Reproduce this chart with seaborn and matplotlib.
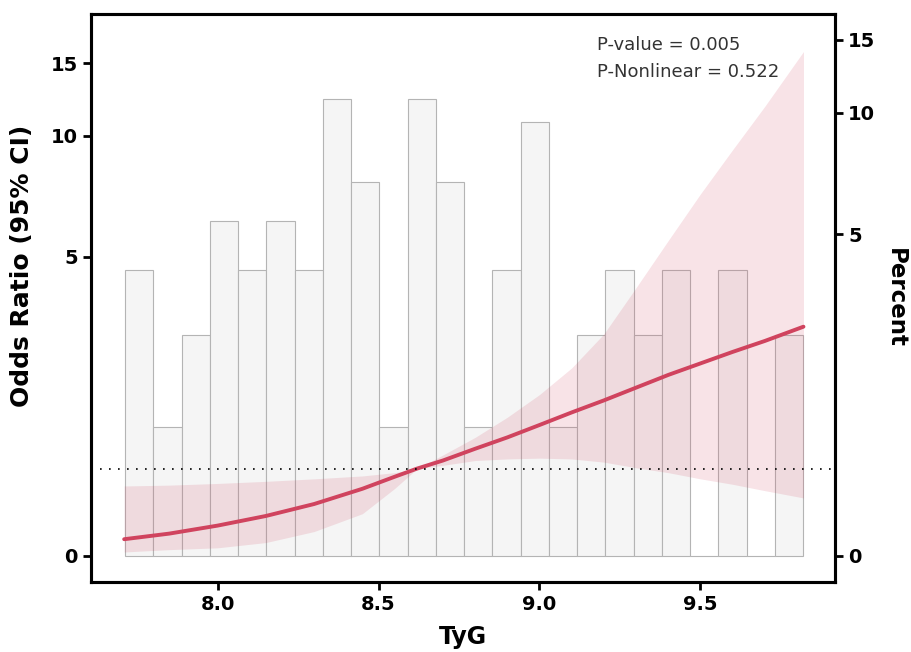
import numpy as np
import pandas as pd
import seaborn as sns
import matplotlib.pyplot as plt
from matplotlib.ticker import NullLocator

sns.set_theme(style="white")
plt.rcParams["font.family"] = ["DejaVu Sans"]

# histogram of TyG: 24 bins, counts per bin (shown as percent on right axis)
bin_start = 7.713
bin_width = 0.08775
counts = [3, 1, 2, 4, 3, 4, 3, 8, 5, 1, 8, 5, 1, 3, 7, 1, 2, 3, 2, 3, 0, 3, 0, 2]

# RCS curve + 95% CI
tyg = [7.71, 7.85, 8.0, 8.15, 8.3, 8.45, 8.55, 8.62, 8.7, 8.8, 8.9, 9.0,
       9.1, 9.2, 9.3, 9.4, 9.5, 9.6, 9.7, 9.82]
or_fit = [0.185, 0.247, 0.336, 0.444, 0.58, 0.757, 0.9, 1.0, 1.10, 1.25, 1.40, 1.57,
          1.75, 1.93, 2.13, 2.34, 2.54, 2.75, 2.96, 3.25]
or_low = [0.044, 0.07, 0.09, 0.148, 0.27, 0.47, 0.76, 1.0, 1.04, 1.10, 1.12, 1.13,
          1.12, 1.08, 1.01, 0.95, 0.875, 0.81, 0.735, 0.65]
or_high = [0.79, 0.80, 0.82, 0.845, 0.875, 0.91, 0.95, 1.0, 1.17, 1.40, 1.68, 2.02,
           2.46, 3.1, 4.15, 5.5, 7.2, 9.25, 11.8, 16.0]

p_text = ["P-value = 0.005", "P-Nonlinear = 0.522"]

n_bins = len(counts)
bin_end = bin_start + bin_width * n_bins
hist_df = pd.DataFrame({
    "tyg": bin_start + bin_width * (np.arange(n_bins) + 0.5),
    "pct": np.array(counts) / sum(counts) * 100,
})

red = "#d0435e"

fig = plt.figure(figsize=(9.11, 6.52), dpi=100)
ax = fig.add_axes([0.0999, 0.1074, 0.8167, 0.8711])
ax2 = ax.twinx()

# bars on the right axis (percent)
sns.histplot(data=hist_df, x="tyg", weights="pct", bins=n_bins,
             binrange=(bin_start, bin_end), ax=ax2,
             color="#f5f5f5", edgecolor="#b4b4b4", linewidth=0.8, alpha=1)
ax2.set_yscale("asinh", linear_width=1.75)
ax2.set_ylim(-0.252, 17.3)
ax2.set_yticks([0, 5, 10, 15], labels=["0", "5", "10", "15"])
ax2.yaxis.set_minor_locator(NullLocator())
ax2.set_ylabel("Percent", rotation=-90, fontsize=16.5, fontweight="bold",
               va="bottom", color="black")
ax2.yaxis.set_label_coords(1.066, 0.5)

# curve on the left axis (odds ratio)
ax.fill_between(tyg, or_low, or_high, color=red, alpha=0.15, lw=0)
sns.lineplot(x=tyg, y=or_fit, ax=ax, color=red, lw=2.8)
ax.axhline(1, color="black", lw=1.2, ls=(0, (1, 4.4)))
ax.set_yscale("asinh", linear_width=2)
ax.set_ylim(-0.287, 19.7)
ax.set_xlim(7.607, 9.918)
ax.set_yticks([0, 5, 10, 15], labels=["0", "5", "10", "15"])
ax.yaxis.set_minor_locator(NullLocator())
ax.set_xticks([8.0, 8.5, 9.0, 9.5], labels=["8.0", "8.5", "9.0", "9.5"])

ax.set_ylabel("Odds Ratio (95% CI)", fontsize=18, fontweight="bold", color="black")
ax.yaxis.set_label_coords(-0.0765, 0.557)
ax.set_xlabel("TyG", fontsize=17, fontweight="bold", color="black")
ax.xaxis.set_label_coords(0.5, -0.0757)

for i, t in enumerate(p_text):
    ax.text(0.6805, 0.945 - i * 0.047, t, transform=ax.transAxes,
            fontsize=13, color="#333333", va="center", ha="left")

ax.set_zorder(ax2.get_zorder() + 1)
ax.patch.set_visible(False)

for a in (ax, ax2):
    for s in a.spines.values():
        s.set_linewidth(2.2)
        s.set_color("black")
ax.tick_params(axis="both", direction="out", length=6, width=2, labelsize=14,
               left=True, bottom=True, colors="black")
ax2.tick_params(axis="y", direction="out", length=6, width=2, labelsize=14,
                right=True, colors="black")
for lab in ax.get_xticklabels() + ax.get_yticklabels() + ax2.get_yticklabels():
    lab.set_fontweight("bold")

fig.savefig("out.png", dpi=100, facecolor="white")
